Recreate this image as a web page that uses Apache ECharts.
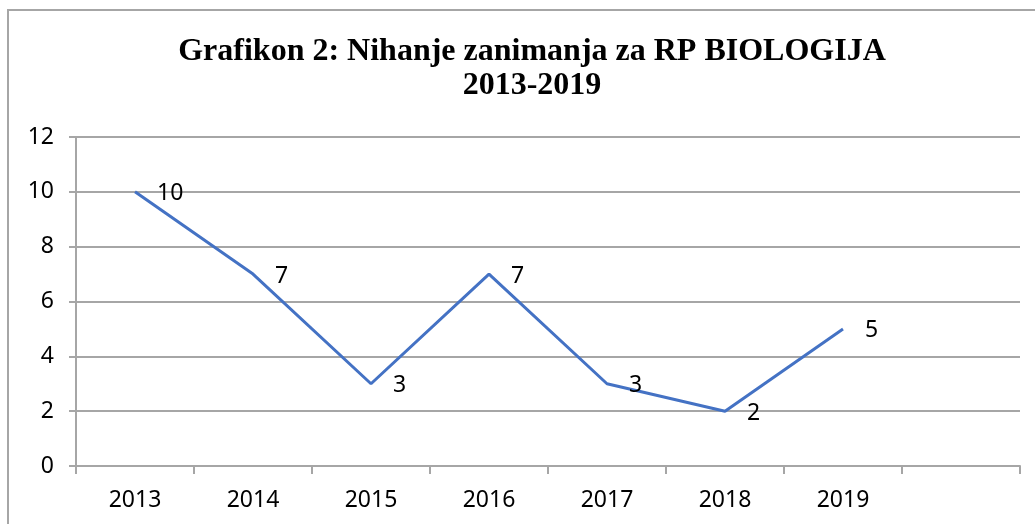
<!DOCTYPE html>
<html>
<head>
<meta charset="utf-8">
<script src="https://cdn.jsdelivr.net/npm/echarts@6/dist/echarts.min.js"></script>
<style>
    body { margin: 0; background: #fff; overflow: hidden; }
    #frame {
        position: absolute; left: 7px; top: 9px;
        width: 1100px; height: 600px;
        border-left: 2px solid #a6a6a6; border-top: 2px solid #a6a6a6;
    }
    #main { position: absolute; left: 0; top: 0; width: 1035px; height: 524px; }
</style>
</head>
<body>
<div id="frame"></div>
<div id="main"></div>
<script>
// kategorije (zadnja je prazna kao u originalu)
var years = ['2013', '2014', '2015', '2016', '2017', '2018', '2019', ''];
var interest = [10, 7, 3, 7, 3, 2, 5];
var yTicks = { min: 0, max: 12, interval: 2 };

var gray = '#a6a6a6';
var labelFont = '"Noto Sans", "Open Sans", sans-serif';

var chart = echarts.init(document.getElementById('main'));
var option = {
    animation: false,
    title: {
        text: 'Grafikon 2: Nihanje zanimanja za RP BIOLOGIJA\n2013-2019',
        left: 532,
        top: 35,
        padding: 0,
        textAlign: 'center',
        textStyle: {
            fontFamily: '"Liberation Serif", "DejaVu Serif", serif',
            fontWeight: 'bold',
            fontSize: 32,
            lineHeight: 34,
            color: '#000'
        }
    },
    grid: {
        left: 76,
        right: 15,
        top: 137,
        bottom: 58,
        containLabel: false
    },
    xAxis: {
        type: 'category',
        data: years,
        boundaryGap: true,
        axisLine: { show: true, lineStyle: { color: gray, width: 2 } },
        axisTick: { show: true, length: 8, alignWithLabel: false, lineStyle: { color: gray, width: 2 } },
        axisLabel: { color: '#000', fontSize: 23, fontFamily: labelFont, margin: 23, interval: 0 },
        splitLine: { show: false }
    },
    yAxis: {
        type: 'value',
        min: yTicks.min,
        max: yTicks.max,
        interval: yTicks.interval,
        axisLine: { show: true, lineStyle: { color: gray, width: 2 } },
        axisTick: { show: true, length: 7, lineStyle: { color: gray, width: 2 } },
        axisLabel: { color: '#000', fontSize: 23, fontFamily: labelFont, margin: 22 },
        splitLine: { show: true, lineStyle: { color: gray, width: 2 } }
    },
    series: [
        {
            name: 'RP BIOLOGIJA',
            type: 'line',
            data: interest,
            symbol: 'circle',
            symbolSize: 0,
            lineStyle: { color: '#4472c4', width: 3 },
            itemStyle: { color: '#4472c4' },
            label: {
                show: true,
                position: 'right',
                distance: 22,
                offset: [0, 2],
                color: '#000',
                fontSize: 23,
                fontFamily: labelFont
            }
        }
    ]
};
chart.setOption(option);
</script>
</body>
</html>
